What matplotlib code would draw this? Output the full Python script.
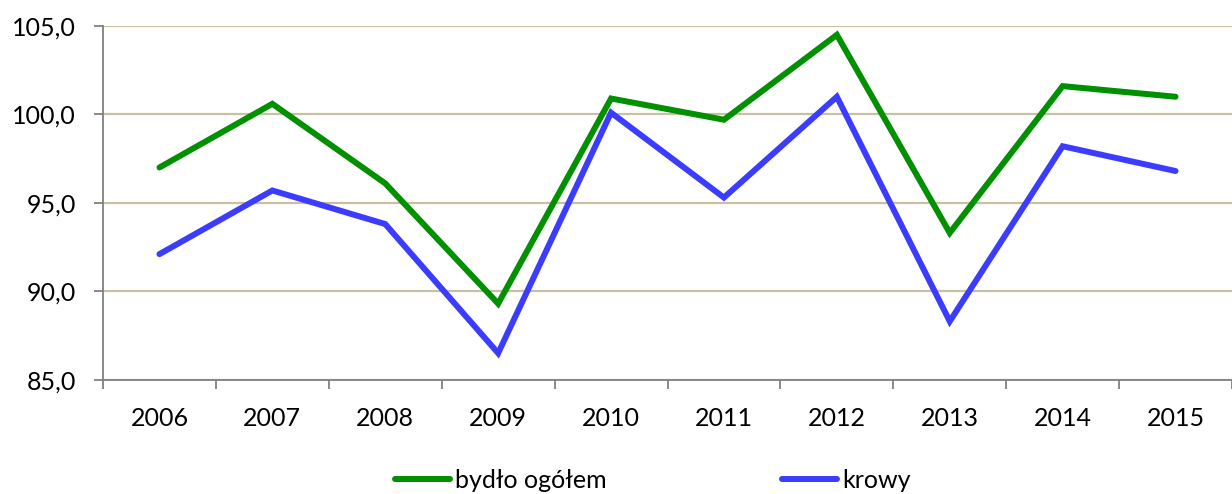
import matplotlib
matplotlib.use("Agg")
import matplotlib.pyplot as plt
import numpy as np

plt.rcParams["font.family"] = ["Lato", "DejaVu Sans"]

lata = ["2006", "2007", "2008", "2009", "2010", "2011", "2012", "2013", "2014", "2015"]
bydlo = [97.0, 100.6, 96.1, 89.3, 100.9, 99.7, 104.5, 93.3, 101.6, 101.0]
krowy = [92.1, 95.7, 93.8, 86.5, 100.1, 95.3, 101.0, 88.3, 98.2, 96.8]
y_ticks = [85, 90, 95, 100, 105]

fig = plt.figure(figsize=(12.32, 4.94), dpi=100)
ax = fig.add_axes([103 / 1232, 1 - 379.7 / 494, 1 - 103 / 1232, (379.7 - 26) / 494])

x = np.arange(len(lata))
ax.plot(x, bydlo, color="#009000", lw=4.3, label="bydło ogółem", solid_capstyle="round", solid_joinstyle="miter")
ax.plot(x, krowy, color="#3c3cff", lw=4.3, label="krowy", solid_capstyle="round", solid_joinstyle="miter")

# obraz jest przyciety z prawej, os konczy sie troche za krawedzia
ax.set_xlim(-0.5, 9.5 - 6 / 113.7)
ax.set_ylim(85, 105)

ax.set_yticks(y_ticks)
ax.set_yticklabels([f"{v:.1f}".replace(".", ",") for v in y_ticks], fontsize=18)
ax.set_xticks(np.arange(-0.5, 10, 1))
ax.set_xticklabels([])
ax.set_xticks(x, minor=True)
ax.set_xticklabels(lata, minor=True, fontsize=18)
ax.tick_params(axis="x", which="minor", length=0, pad=20)
ax.tick_params(axis="x", which="major", length=6.5, width=1.3, color="#808080", direction="out")
ax.tick_params(axis="y", length=6.5, width=1.3, color="#808080", pad=13)

ax.grid(axis="y", color="#c8c0a0", lw=1.6)
ax.set_axisbelow(True)
for s in ["top", "right"]:
    ax.spines[s].set_visible(False)
for s in ["left", "bottom"]:
    ax.spines[s].set_color("#808080")
    ax.spines[s].set_linewidth(1.3)

fig.legend(loc="center", bbox_to_anchor=(653 / 1232, 1 - 480 / 494), ncol=2, frameon=False,
           fontsize=18, handlelength=2.2, handletextpad=0.2, columnspacing=7.0,
           borderpad=0, borderaxespad=0)

fig.savefig("out.png", dpi=100)
